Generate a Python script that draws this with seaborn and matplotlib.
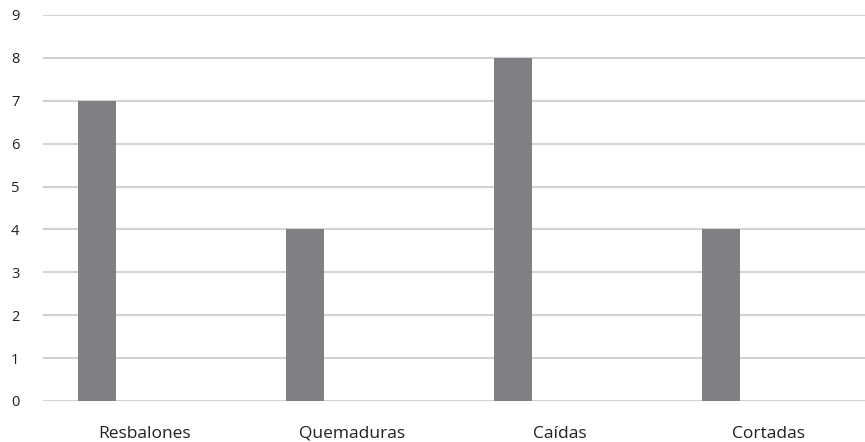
import matplotlib
matplotlib.use("Agg")
import matplotlib.pyplot as plt
import seaborn as sns
import numpy as np
import pandas as pd

categories = ["Resbalones", "Quemaduras", "Caídas", "Cortadas"]
values = [7, 4, 8, 4]
y_ticks = list(range(0, 10))

sns.set_style("white")
plt.rcParams['font.family'] = ['Open Sans', 'DejaVu Sans']

fig = plt.figure(figsize=(8.65, 4.42), dpi=100)
ax = fig.add_axes([43/865, 41/442, 1 - 43/865, (401-15)/442])

df = pd.DataFrame({"cat": categories, "val": values})
sns.barplot(data=df, x="cat", y="val", color="#808084", saturation=1,
            width=0.183, ax=ax, zorder=3, linewidth=0, edgecolor="none")

ax.set_ylim(0, 9)
ax.set_xlim(-0.26, 3.692)
ax.set_yticks(y_ticks)
ax.set_yticklabels([str(t) for t in y_ticks], fontsize=10.5, color="#231f20")
ax.set_xticks(np.arange(len(categories)) + 0.226)
ax.set_xticklabels(categories, fontsize=12.5, color="#231f20")
ax.yaxis.grid(True, color="#d2d2d2", linewidth=1.5, zorder=0)
ax.xaxis.grid(False)
ax.set_axisbelow(True)
for s in ax.spines.values():
    s.set_visible(False)
ax.tick_params(axis="y", length=0, pad=17)
ax.tick_params(axis="x", length=0, pad=18)
ax.set_xlabel("")
ax.set_ylabel("")

fig.savefig("out.png", dpi=100)
